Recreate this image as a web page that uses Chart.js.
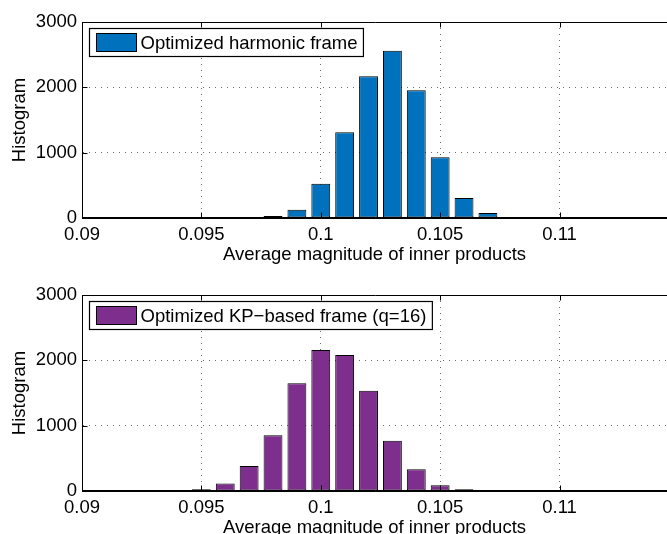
<!DOCTYPE html>
<html>
<head>
<meta charset="utf-8">
<script src="https://cdn.jsdelivr.net/npm/chart.js@4.4.1/dist/chart.umd.min.js"></script>
<style>
  html, body { margin: 0; padding: 0; background: #fff; overflow: hidden; }
  #wrap { position: relative; width: 667px; height: 534px; overflow: hidden; }
  .box { position: absolute; left: 0; width: 667px; }
  #box1 { top: 0; height: 267px; }
  #box2 { top: 267px; height: 273px; }
</style>
</head>
<body>
<div id="wrap">
  <div class="box" id="box1"><canvas id="chartTop"></canvas></div>
  <div class="box" id="box2"><canvas id="chartBottom"></canvas></div>
</div>
<script>
/*------------------------------DATA------------------------------*/
// bin centres and counts
const topCenters = [0.097, 0.098, 0.099, 0.100, 0.101, 0.102, 0.103, 0.104, 0.105, 0.106, 0.107, 0.108];
const topCounts  = [8, 30, 127, 525, 1313, 2170, 2560, 1954, 931, 305, 77, 14];

const bottomCenters = [0.093, 0.094, 0.095, 0.096, 0.097, 0.098, 0.099, 0.100, 0.101, 0.102, 0.103, 0.104, 0.105, 0.106, 0.107, 0.108];
const bottomCounts  = [3, 10, 26, 115, 382, 852, 1648, 2158, 2082, 1536, 770, 332, 87, 25, 6, 2];

const topLabel = 'Optimized harmonic frame';
const bottomLabel = 'Optimized KP\u2212based frame (q=16)';

const xTicks = [0.09, 0.095, 0.1, 0.105, 0.11];
const xTickLabels = ['0.09', '0.095', '0.1', '0.105', '0.11'];
const yTicks = [0, 1000, 2000, 3000];
const yTickLabels = ['0', '1000', '2000', '3000'];

const FONT = '"Liberation Sans", Arial, Helvetica, sans-serif';

/*------------------------------PLUGINS------------------------------*/
// axes box with inward ticks, drawn over the bars (matlab look)
const axesBox = {
  id: 'axesBox',
  afterDatasetsDraw(chart) {
    const { ctx, chartArea: a, scales } = chart;
    const L = Math.round(a.left) + 0.5;
    const T = Math.round(a.top) + 0.5;
    const B = Math.round(a.bottom) - 0.5;
    const R = a.right + 2;
    ctx.save();
    ctx.strokeStyle = '#000';
    ctx.lineWidth = 1;
    ctx.beginPath();
    ctx.moveTo(L, T); ctx.lineTo(R, T);
    ctx.moveTo(L, B); ctx.lineTo(R, B);
    ctx.moveTo(L, T); ctx.lineTo(L, B);
    xTicks.forEach((v) => {
      const x = Math.round(scales.x.getPixelForValue(v)) + 0.5;
      ctx.moveTo(x, B); ctx.lineTo(x, B - 5);
      ctx.moveTo(x, T); ctx.lineTo(x, T + 5);
    });
    yTicks.forEach((v) => {
      const y = Math.round(scales.y.getPixelForValue(v)) + 0.5;
      ctx.moveTo(L, y); ctx.lineTo(L + 5, y);
    });
    ctx.stroke();
    ctx.restore();
  }
};

// legend in a framed box at the top left of the plot
const frameLegend = {
  id: 'frameLegend',
  afterDraw(chart) {
    const ds = chart.data.datasets[0];
    const { ctx, chartArea: a } = chart;
    ctx.save();
    ctx.font = '18.5px ' + FONT;
    const tw = ctx.measureText(ds.label).width;
    const x = Math.round(a.left) + 7.5;
    const y = Math.round(a.top) + 6.5;
    const w = 57 + tw;
    const h = 28;
    ctx.fillStyle = '#fff';
    ctx.fillRect(x, y, w, h);
    ctx.strokeStyle = '#000';
    ctx.lineWidth = 1.2;
    ctx.strokeRect(x, y, w, h);
    ctx.fillStyle = ds.backgroundColor;
    ctx.fillRect(x + 7, y + 5, 40, 18);
    ctx.lineWidth = 1;
    ctx.strokeRect(x + 7, y + 5, 40, 18);
    ctx.fillStyle = '#000';
    ctx.textBaseline = 'middle';
    ctx.fillText(ds.label, x + 51, y + h / 2 + 1);
    ctx.restore();
  }
};

/*------------------------------CHART------------------------------*/
function makeHist(canvasId, centers, counts, label, color, padTop, xHeight) {
  const points = centers.map((c, i) => ({ x: c, y: counts[i] }));

  return new Chart(document.getElementById(canvasId), {
    type: 'bar',
    data: {
      datasets: [{
        label: label,
        data: points,
        backgroundColor: color,
        borderColor: '#000',
        borderWidth: 1,
        borderSkipped: false,
        barPercentage: 0.79,
        categoryPercentage: 1,
      }],
    },
    options: {
      responsive: true,
      maintainAspectRatio: false,
      animation: false,
      layout: { padding: { top: padTop, left: 0, right: 0, bottom: 0 } },
      plugins: {
        legend: { display: false },
        tooltip: { enabled: false },
      },
      scales: {
        x: {
          type: 'linear',
          min: 0.09,
          max: 0.1145,
          offset: false,
          afterBuildTicks: (scale) => {
            scale.ticks = xTicks.map((v) => ({ value: v }));
          },
          afterFit: (scale) => { scale.height = xHeight; },
          ticks: {
            autoSkip: false,
            maxRotation: 0,
            padding: 6,
            color: '#000',
            font: { family: FONT, size: 18.5 },
            callback: (v, i) => xTickLabels[i],
          },
          grid: {
            offset: false,
            drawTicks: false,
            color: 'rgba(60,60,60,0.75)',
            lineWidth: 1,
          },
          border: { display: true, color: '#000', width: 1, dash: [1, 5] },
          title: {
            display: true,
            text: 'Average magnitude of inner products',
            color: '#000',
            font: { family: FONT, size: 18.5 },
            padding: { top: 0, bottom: 1 },
          },
        },
        y: {
          min: 0,
          max: 3000,
          afterBuildTicks: (scale) => {
            scale.ticks = yTicks.map((v) => ({ value: v }));
          },
          afterFit: (scale) => { scale.width = 82; },
          ticks: {
            padding: 5,
            color: '#000',
            font: { family: FONT, size: 18.5 },
            callback: (v, i) => yTickLabels[i],
          },
          grid: {
            drawTicks: false,
            color: 'rgba(60,60,60,0.75)',
            lineWidth: 1,
          },
          border: { display: true, color: '#000', width: 1, dash: [1, 5] },
          title: {
            display: true,
            text: 'Histogram',
            color: '#000',
            font: { family: FONT, size: 18.5 },
            padding: { top: 9, bottom: 0 },
          },
        },
      },
    },
    plugins: [axesBox, frameLegend],
  });
}

makeHist('chartTop', topCenters, topCounts, topLabel, 'rgb(0,114,189)', 22, 49);
makeHist('chartBottom', bottomCenters, bottomCounts, bottomLabel, 'rgb(126,47,142)', 28, 49);
</script>
</body>
</html>
